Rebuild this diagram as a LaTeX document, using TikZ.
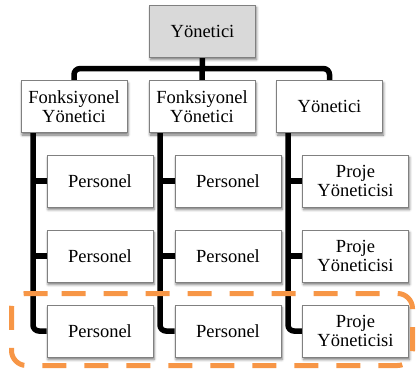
\documentclass[tikz,border=0pt]{standalone}
\usepackage{fontspec}
\setmainfont{Liberation Serif}
\newfontfamily\chartfont{Liberation Serif}
\usetikzlibrary{shadows.blur,backgrounds}
\definecolor{boxline}{RGB}{128,128,128}
\definecolor{topfill}{RGB}{217,217,217}
\definecolor{hilite}{RGB}{247,150,70}
\begin{document}
\begin{tikzpicture}[x=1pt,y=-1pt,
  box/.style={rectangle, draw=boxline, line width=0.8pt, fill=white,
    minimum width=106pt, minimum height=52pt, inner sep=0pt, align=center,
    font=\chartfont\fontsize{18.5}{19.5}\selectfont,
    blur shadow={shadow xshift=1pt, shadow yshift=-2.5pt, shadow blur radius=2.5pt, shadow opacity=55}},
  conn/.style={line width=5.5pt, black, rounded corners=6pt},
  frame/.style={hilite, line width=5pt, dash pattern=on 24pt off 18pt, rounded corners=15pt}
]
\useasboundingbox (0,0) rectangle (417,374);

% head of the chart
\node[box, fill=topfill] (top) at (202.5,31) {Yönetici};

% second level
\node[box] (m1) at (74,106.5)   {Fonksiyonel\\Yönetici};
\node[box] (m2) at (202,106.5)  {Fonksiyonel\\Yönetici};
\node[box] (m3) at (329.5,106.5) {Yönetici};

% staff under each second-level box
\node[box] (a1) at (100,181) {Personel};
\node[box] (a2) at (100,256) {Personel};
\node[box] (a3) at (100,331) {Personel};
\node[box] (b1) at (228,181) {Personel};
\node[box] (b2) at (228,256) {Personel};
\node[box] (b3) at (228,331) {Personel};
\node[box] (c1) at (355.5,181) {Proje\\Yöneticisi};
\node[box] (c2) at (355.5,256) {Proje\\Yöneticisi};
\node[box] (c3) at (355.5,331) {Proje\\Yöneticisi};

% x positions of the vertical spines
\coordinate (va) at (33,0);
\coordinate (vb) at (160,0);
\coordinate (vc) at (288,0);

\begin{scope}[on background layer]
  % top level connectors
  \draw[conn] (top.south) -- (m2.north);
  \draw[conn] (m1.north) -- ++(0,-11.5) -| (m3.north);
  % spines with branches
  \draw[conn] (m1.south -| va) |- (a3.west);
  \draw[conn] (a1.west -| va) -- (a1.west);
  \draw[conn] (a2.west -| va) -- (a2.west);
  \draw[conn] (m2.south -| vb) |- (b3.west);
  \draw[conn] (b1.west -| vb) -- (b1.west);
  \draw[conn] (b2.west -| vb) -- (b2.west);
  \draw[conn] (m3.south -| vc) |- (c3.west);
  \draw[conn] (c1.west -| vc) -- (c1.west);
  \draw[conn] (c2.west -| vc) -- (c2.west);
\end{scope}

% dashed highlight around the bottom row
\draw[frame] (46.7,293.5) -- (412.5,293.5) -- (412.5,365.5) -- (11.5,365.5) -- (11.5,293.5) -- cycle;
\end{tikzpicture}
\end{document}
